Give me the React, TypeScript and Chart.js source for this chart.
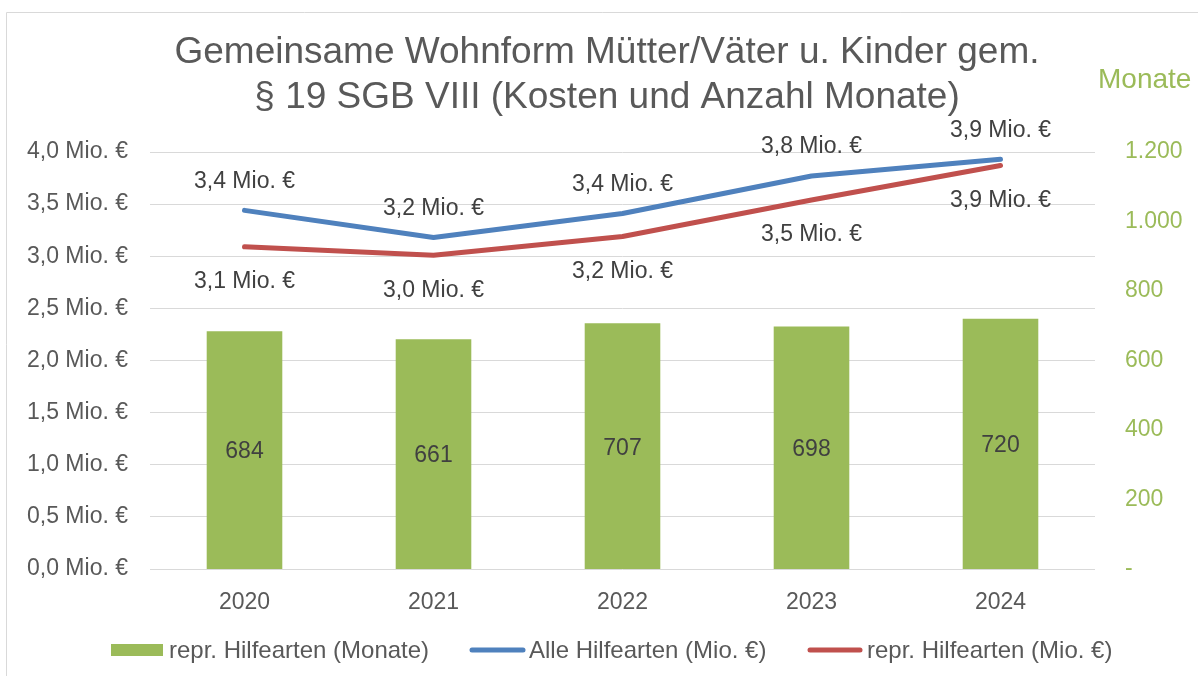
import React, { useEffect, useRef } from "react";
import { Chart, registerables } from "chart.js";

Chart.register(...registerables);

const years = ["2020", "2021", "2022", "2023", "2024"];
const monate = [684, 661, 707, 698, 720];
const alleHilfearten = [3.44, 3.18, 3.41, 3.77, 3.93];
const reprHilfearten = [3.09, 3.01, 3.19, 3.54, 3.87];
const titleLines = ["Gemeinsame Wohnform Mütter/Väter u. Kinder gem.", "§ 19 SGB VIII (Kosten und Anzahl Monate)"];
const legendLabels = ["repr. Hilfearten (Monate)", "Alle Hilfearten (Mio. €)", "repr. Hilfearten (Mio. €)"];

const GREEN = "#9BBB59";
const BLUE = "#4F81BD";
const RED = "#C0504D";
const TEXT = "#595959";
const LABEL = "#404040";
const FONT = "'Liberation Sans', Arial, sans-serif";

const fmtMio = (v: number) => v.toFixed(1).replace(".", ",") + " Mio. €";
const fmtNum = (v: number) => (v === 0 ? "-" : v.toLocaleString("de-DE"));

const overlay = {
  id: "overlay",
  afterDraw(chart: any) {
    const ctx = chart.ctx as CanvasRenderingContext2D;
    ctx.save();
    // border
    ctx.strokeStyle = "#d9d9d9";
    ctx.lineWidth = 1;
    ctx.beginPath();
    ctx.moveTo(6.5, 676);
    ctx.lineTo(6.5, 12.5);
    ctx.lineTo(1198, 12.5);
    ctx.stroke();

    // title
    ctx.fillStyle = TEXT;
    ctx.font = `37px ${FONT}`;
    ctx.textAlign = "center";
    ctx.textBaseline = "middle";
    ctx.fillText(titleLines[0], 607, 53);
    ctx.fillText(titleLines[1], 607, 98);

    // Monate axis title
    ctx.fillStyle = GREEN;
    ctx.font = `28px ${FONT}`;
    ctx.textAlign = "left";
    ctx.fillText("Monate", 1098, 80);

    // bar labels
    ctx.font = `23px ${FONT}`;
    ctx.fillStyle = LABEL;
    ctx.textAlign = "center";
    const barMeta = chart.getDatasetMeta(0);
    barMeta.data.forEach((el: any, i: number) => {
      const mid = (el.y + el.base) / 2;
      ctx.fillText(String(monate[i]), el.x, mid + 2);
    });
    // line labels
    const blueMeta = chart.getDatasetMeta(1);
    blueMeta.data.forEach((el: any, i: number) => {
      ctx.fillText(fmtMio(alleHilfearten[i]), el.x, el.y - 29);
    });
    const redMeta = chart.getDatasetMeta(2);
    redMeta.data.forEach((el: any, i: number) => {
      ctx.fillText(fmtMio(reprHilfearten[i]), el.x, el.y + 35);
    });

    // legend
    const ly = 650;
    ctx.textAlign = "left";
    ctx.fillStyle = GREEN;
    ctx.fillRect(111, ly - 6, 52, 12);
    ctx.lineCap = "round";
    ctx.lineWidth = 5;
    ctx.strokeStyle = BLUE;
    ctx.beginPath();
    ctx.moveTo(472, ly);
    ctx.lineTo(523, ly);
    ctx.stroke();
    ctx.strokeStyle = RED;
    ctx.beginPath();
    ctx.moveTo(810, ly);
    ctx.lineTo(860, ly);
    ctx.stroke();
    ctx.fillStyle = TEXT;
    ctx.font = `24px ${FONT}`;
    ctx.fillText(legendLabels[0], 169, ly + 1);
    ctx.fillText(legendLabels[1], 529, ly + 1);
    ctx.fillText(legendLabels[2], 867, ly + 1);
    ctx.restore();
  },
};

export default function App() {
  const ref = useRef<HTMLCanvasElement | null>(null);
  useEffect(() => {
    if (!ref.current) return;
    const chart = new Chart(ref.current, {
      type: "bar",
      data: {
        labels: years,
        datasets: [
          {
            type: "bar",
            label: legendLabels[0],
            data: monate,
            backgroundColor: GREEN,
            yAxisID: "y1",
            barPercentage: 0.4,
            categoryPercentage: 1,
            order: 3,
          },
          {
            type: "line",
            label: legendLabels[1],
            data: alleHilfearten,
            borderColor: BLUE,
            borderWidth: 5,
            pointRadius: 0,
            borderCapStyle: "round",
            borderJoinStyle: "round",
            tension: 0,
            yAxisID: "y",
            order: 1,
          },
          {
            type: "line",
            label: legendLabels[2],
            data: reprHilfearten,
            borderColor: RED,
            borderWidth: 5,
            pointRadius: 0,
            borderCapStyle: "round",
            borderJoinStyle: "round",
            tension: 0,
            yAxisID: "y",
            order: 2,
          },
        ] as any,
      },
      options: {
        animation: false,
        responsive: false,
        layout: { padding: { top: 152, left: 0, right: 0, bottom: 0 } },
        plugins: {
          legend: { display: false },
          title: { display: false },
          tooltip: { enabled: false },
        },
        scales: {
          x: {
            grid: { display: false },
            border: { display: false },
            ticks: { color: TEXT, font: { size: 23, family: FONT }, padding: 12 },
            afterFit: (s: any) => { s.height = 107; },
          },
          y: {
            position: "left",
            min: 0,
            max: 4,
            ticks: {
              stepSize: 0.5,
              color: TEXT,
              font: { size: 23, family: FONT },
              padding: 22,
              callback: (v: any) => fmtMio(Number(v)),
            },
            grid: { color: "#d9d9d9", lineWidth: 1, drawTicks: false },
            border: { display: false },
            afterFit: (s: any) => { s.width = 150; },
          },
          y1: {
            position: "right",
            min: 0,
            max: 1200,
            ticks: {
              stepSize: 200,
              color: GREEN,
              font: { size: 23, family: FONT },
              padding: 30,
              callback: (v: any) => fmtNum(Number(v)),
            },
            grid: { display: false, drawTicks: false },
            border: { display: false },
            afterFit: (s: any) => { s.width = 103; },
          },
        },
      } as any,
      plugins: [overlay],
    });
    return () => chart.destroy();
  }, []);
  return (
    <div style={{ position: "fixed", left: 0, top: 0, width: 1198, height: 676, background: "#fff" }}>
      <canvas ref={ref} width={1198} height={676} style={{ display: "block", width: 1198, height: 676 }} />
    </div>
  );
}
